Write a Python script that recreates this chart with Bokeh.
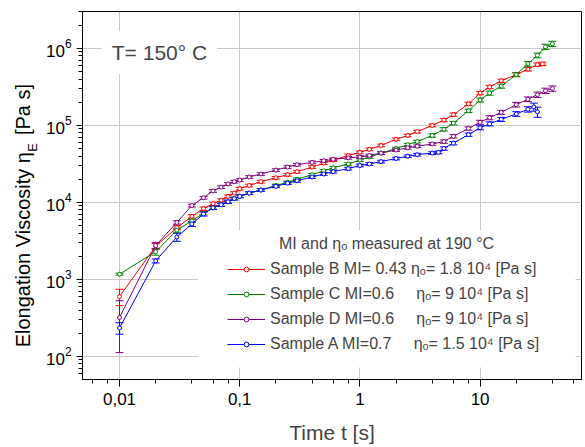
import math
from bokeh.plotting import figure
from bokeh.models import (ColumnDataSource, Whisker, TeeHead, Legend, LegendItem, Label,
                          CustomJSTickFormatter, LogTicker, FixedTicker, BoxAnnotation, LogAxis)
from bokeh.embed import file_html
from bokeh.resources import INLINE

# ---------------- data ----------------
EARLY_T = [0.01, 0.02, 0.03, 0.04, 0.05, 0.06, 0.07, 0.08, 0.09, 0.1]

B_t = EARLY_T + [0.12, 0.15, 0.2, 0.25, 0.3, 0.4, 0.5, 0.6, 0.8, 1, 1.2, 1.5, 2, 2.5, 3, 4, 5, 6, 8, 10,
                 12, 15, 20, 25, 30, 33]
B_v = [600, 2700, 4700, 6600, 8300, 9600, 10700, 12000, 13200, 15100,
       16600, 18600, 20900, 22900, 25100, 28800, 32400, 35500, 40700, 44700,
       49000, 55000, 66100, 74100, 83200, 100000, 117500, 138000, 190500, 263000,
       316000, 380000, 457000, 537000, 617000, 631000]
B_err = [0.24, 0.08, 0.06, 0.05, 0.05, 0.05, 0.04, 0.04, 0.04, 0.04,
         0.04, 0.04, 0.04, 0.04, 0.04, 0.04, 0.04, 0.04, 0.04, 0.04,
         0.04, 0.04, 0.04, 0.04, 0.04, 0.04, 0.05, 0.05, 0.05, 0.05,
         0.05, 0.05, 0.05, 0.05, 0.05, 0.05]

C_t = EARLY_T + [0.12, 0.15, 0.2, 0.25, 0.3, 0.4, 0.5, 0.6, 0.8, 1, 1.2, 1.5, 2, 2.5, 3, 4, 5, 6, 8, 10,
                 12, 15, 20, 25, 30, 35, 40]
C_v = [1170, 2290, 4360, 5750, 7240, 8510, 9330, 10200, 11200, 12000,
       13200, 14500, 16600, 18200, 20000, 22900, 25700, 28200, 31600, 35500,
       38900, 43700, 50100, 56200, 61700, 74100, 89100, 107000, 155000, 214000,
       263000, 324000, 457000, 631000, 813000, 1050000, 1150000]
C_err = [0.03, 0.10, 0.06, 0.05, 0.05, 0.04, 0.04, 0.04, 0.04, 0.04,
         0.04, 0.04, 0.04, 0.04, 0.04, 0.04, 0.04, 0.04, 0.04, 0.04,
         0.04, 0.04, 0.04, 0.04, 0.04, 0.05, 0.05, 0.05, 0.05, 0.06,
         0.06, 0.06, 0.06, 0.07, 0.07, 0.08, 0.08]

D_t = C_t
D_v = [320, 2750, 5500, 9100, 11500, 14100, 15800, 17400, 18600, 19500,
       21400, 23400, 26300, 28800, 30900, 33100, 34700, 36300, 38000, 38900,
       40700, 43700, 47900, 51300, 53700, 57500, 61700, 72400, 91200, 110000,
       126000, 148000, 186000, 219000, 251000, 282000, 302000]
D_err = [0.65, 0.10, 0.05, 0.04, 0.04, 0.04, 0.04, 0.04, 0.04, 0.04,
         0.04, 0.04, 0.04, 0.04, 0.04, 0.04, 0.04, 0.04, 0.04, 0.04,
         0.04, 0.04, 0.04, 0.04, 0.04, 0.04, 0.05, 0.05, 0.05, 0.06,
         0.06, 0.06, 0.07, 0.07, 0.08, 0.08, 0.08]

A_t = EARLY_T + [0.12, 0.15, 0.2, 0.25, 0.3, 0.4, 0.5, 0.6, 0.8, 1, 1.2, 1.5, 2, 2.5, 3, 4, 4.5, 5, 6, 8,
                 10, 12, 15, 20, 25, 28, 30]
A_v = [234, 1740, 3550, 5250, 7080, 8510, 9330, 10200, 11200, 12000,
       13200, 14500, 16200, 17800, 19100, 21400, 23400, 25100, 27500, 30200,
       31600, 33900, 37200, 39800, 41700, 43700, 44700, 50100, 58900, 75900,
       93300, 105000, 120000, 141000, 162000, 174000, 150000]
A_err = [0.17, 0.06, 0.12, 0.07, 0.06, 0.05, 0.05, 0.05, 0.04, 0.04,
         0.04, 0.04, 0.04, 0.04, 0.04, 0.04, 0.04, 0.04, 0.04, 0.04,
         0.04, 0.04, 0.04, 0.04, 0.04, 0.04, 0.04, 0.05, 0.05, 0.05,
         0.06, 0.06, 0.06, 0.07, 0.08, 0.12, 0.15]

NBSP = "\u00a0"
SERIES = [
    ("Sample B MI= 0.43 η\u2092= 1.8 10\u2074 [Pa s]", B_t, B_v, B_err, "#ff0000"),
    ("Sample C MI=0.6" + NBSP * 5 + "η\u2092= 9 10\u2074 [Pa s]", C_t, C_v, C_err, "#008000"),
    ("Sample D MI=0.6" + NBSP * 5 + "η\u2092= 9 10\u2074 [Pa s]", D_t, D_v, D_err, "#800080"),
    ("Sample A MI=0.7" + NBSP * 5 + "η\u2092= 1.5 10\u2074 [Pa s]", A_t, A_v, A_err, "#0000ff"),
]
LEGEND_TITLE = "MI and η\u2092 measured at 190 °C"
TEMP_TEXT = "T= 150° C"

X_TICKS = [0.01, 0.1, 1, 10]
X_TICK_LABELS = ["0,01", "0,1", "1", "10"]
X_LABEL = "Time t [s]"
Y_LABEL_MAIN = ["Elongation Viscosity η", "[Pa s]"]
Y_LABEL_SUB = ["E"]

FONT = "Liberation Sans"

# layout constants: where the pieces of the y title sit along the (log) y axis
Y_MAIN_POS = [2432, 161000]
Y_SUB_POS = [51650]

# ---------------- figure ----------------
p = figure(width=585, height=447, x_axis_type="log", y_axis_type="log",
           x_range=(0.00492, 69.8), y_range=(50.1, 3.02e6),
           output_backend="svg", toolbar_location=None,
           min_border_left=82, min_border_right=4, min_border_top=11, min_border_bottom=68)
p.background_fill_color = "white"
p.border_fill_color = "white"
p.outline_line_color = "black"
p.outline_line_width = 1

for g in (p.xgrid, p.ygrid):
    g.grid_line_color = "#c8c8c8"
    g.grid_line_width = 1

p.xaxis.ticker = LogTicker()
p.xaxis.formatter = CustomJSTickFormatter(args=dict(vals=X_TICKS, labs=X_TICK_LABELS), code="""
for (let i = 0; i < vals.length; i++) {
  if (Math.abs(Math.log10(tick) - Math.log10(vals[i])) < 1e-6) return labs[i];
}
return '';
""")
for ax in (p.xaxis[0], p.yaxis[0]):
    ax.axis_line_color = "black"
    ax.major_tick_line_color = "black"
    ax.minor_tick_line_color = "black"
    ax.major_tick_in = 0
    ax.minor_tick_in = 0
    ax.minor_tick_out = 4
    ax.major_label_text_font = FONT
    ax.major_label_text_font_size = "17px"
    ax.major_label_text_color = "black"
p.xaxis.major_tick_out = 7
p.yaxis.major_tick_out = 6
p.xaxis.major_label_standoff = 6
p.yaxis.major_label_standoff = 5
p.xaxis.axis_label = X_LABEL
p.xaxis.axis_label_text_font = FONT
p.xaxis.axis_label_text_font_size = "21px"
p.xaxis.axis_label_text_font_style = "normal"
p.xaxis.axis_label_standoff = 13


def label_axis(positions, texts, size, standoff):
    ax = LogAxis(ticker=FixedTicker(ticks=positions, minor_ticks=[]),
                 formatter=CustomJSTickFormatter(args=dict(vals=positions, labs=texts), code="""
for (let i = 0; i < vals.length; i++) {
  if (Math.abs(tick - vals[i]) <= 1e-6 * vals[i]) return labs[i];
}
return '';
"""))
    ax.axis_line_color = None
    ax.major_tick_line_color = None
    ax.minor_tick_line_color = None
    ax.major_tick_out = 0
    ax.major_tick_in = 0
    ax.minor_tick_out = 0
    ax.minor_tick_in = 0
    ax.major_label_orientation = "vertical"
    ax.major_label_standoff = standoff
    ax.major_label_text_font = FONT
    ax.major_label_text_font_size = size
    ax.major_label_text_color = "black"
    return ax


p.add_layout(label_axis(Y_SUB_POS, Y_LABEL_SUB, "13px", 2), "left")
p.add_layout(label_axis(Y_MAIN_POS, Y_LABEL_MAIN, "20px", -12), "left")

# white box behind legend area (covers grid like the original)
p.add_layout(BoxAnnotation(left=116, right=493, bottom=12, top=149,
                           left_units="screen", right_units="screen",
                           bottom_units="screen", top_units="screen",
                           fill_color="white", fill_alpha=1, line_color=None))

items = []
for label, t, v, err, c in SERIES:
    lo = [vv * (1 - e) for vv, e in zip(v, err)]
    hi = [vv * (1 + e) for vv, e in zip(v, err)]
    src = ColumnDataSource(dict(t=t, v=v, lo=lo, hi=hi))
    lr = p.line("t", "v", source=src, line_color=c, line_width=1)
    p.add_layout(Whisker(source=src, base="t", upper="hi", lower="lo", dimension="height",
                         line_color=c, line_width=1,
                         upper_head=TeeHead(size=8, line_color=c, line_width=1),
                         lower_head=TeeHead(size=8, line_color=c, line_width=1)))
    sr = p.scatter("t", "v", source=src, marker="circle", size=4, line_color=c,
                   fill_color="white", line_width=1)
    items.append(LegendItem(label=label, renderers=[lr, sr]))

legend = Legend(items=items, location=(145, 25), margin=0, padding=10, spacing=5,
                glyph_width=38, glyph_height=12, label_height=20, label_standoff=5,
                label_text_font=FONT, label_text_font_size="16px",
                background_fill_color="white", background_fill_alpha=1,
                border_line_color=None)
p.add_layout(legend)

p.add_layout(Label(x=304, y=136, x_units="screen", y_units="screen", text=LEGEND_TITLE,
                   text_align="center", text_baseline="middle",
                   text_font=FONT, text_font_size="16px",
                   background_fill_color="white", background_fill_alpha=1))

p.add_layout(Label(x=0.0215, y=8.87e5, text=TEMP_TEXT, text_align="center", text_baseline="middle",
                   text_font=FONT, text_font_size="21px",
                   background_fill_color="white", background_fill_alpha=1, padding=10))

open("out.html", "w").write(file_html(p, INLINE))
